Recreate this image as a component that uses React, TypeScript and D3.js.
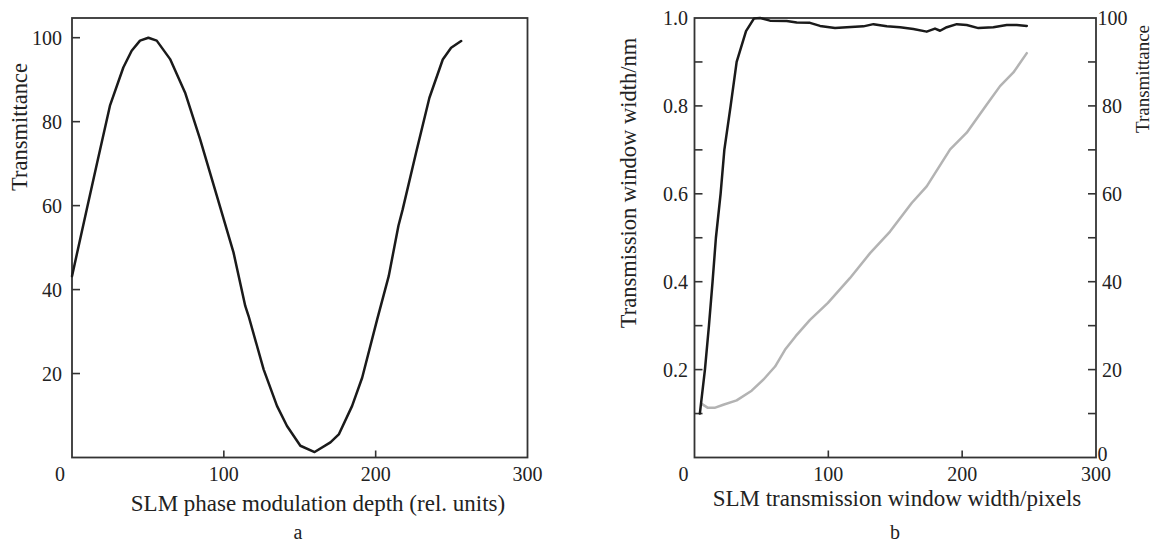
import React from "react";
import * as d3 from "d3";

// Panel a: SLM phase modulation depth vs transmittance
const phaseDepth = [0, 9.7, 16.3, 25, 33.8, 39.3, 44.8, 50.3, 55.8, 64.6, 74.5, 84.4, 95.4, 106.4, 114.1, 116.3, 126.2, 135, 141.6, 150.4, 159.8, 170.2, 175.7, 184.5, 191.1, 201, 208.6, 215, 217.8, 226.6, 235.4, 244.2, 249.7, 256.3];
const phaseTrans = [43.2, 59.1, 69.8, 83.8, 92.9, 96.9, 99.3, 100, 99.3, 94.9, 86.9, 75.8, 62.3, 48.8, 36.1, 33.7, 21, 12.3, 7.5, 2.8, 1.3, 3.6, 5.5, 12.3, 19, 32.9, 43.2, 55.2, 59.1, 72.6, 85.7, 94.8, 97.6, 99.2];

// Panel b: SLM window width (pixels) vs transmission window width (nm)
const winPixelsW = [4, 7.8, 10.8, 13.5, 16, 19.5, 22.3, 27, 31.5, 38.5, 44.5, 49, 56.4, 68.9, 76.4, 86.3, 93.8, 105, 113.8, 126.2, 133.7, 143.7, 153.6, 163.5, 173.5, 179.7, 183.5, 188.5, 196, 203.4, 212.1, 223.3, 233.3, 240.8, 248.3];
const winWidthNm = [0.1, 0.2, 0.3, 0.4, 0.5, 0.6, 0.7, 0.8, 0.9, 0.97, 0.999, 1.0, 0.994, 0.993, 0.99, 0.989, 0.982, 0.977, 0.979, 0.981, 0.986, 0.981, 0.979, 0.975, 0.969, 0.976, 0.971, 0.979, 0.986, 0.984, 0.977, 0.979, 0.984, 0.984, 0.982];

// Panel b: SLM window width (pixels) vs transmittance
const winPixelsT = [5.4, 10, 15, 21.5, 31.5, 42.7, 51.4, 60.2, 67.6, 75.6, 86.3, 99.7, 116.1, 131.2, 146.1, 162.3, 173.5, 191, 203.4, 218.4, 228.3, 238.3, 248.3];
const winTrans = [12.2, 11.3, 11.3, 12.0, 13, 15.2, 17.7, 20.7, 24.5, 27.6, 31.3, 35.2, 40.8, 46.5, 51.4, 57.9, 61.7, 70.1, 73.9, 80.3, 84.5, 87.6, 92];

const xTicksA = [100, 200];
const yTicksA = [20, 40, 60, 80, 100];
const xTicksB = [100, 200];
const yTicksBLeft = [0.1, 0.2, 0.3, 0.4, 0.5, 0.6, 0.7, 0.8, 0.9];
const yLabelsBLeft = [0.2, 0.4, 0.6, 0.8, 1.0];
const yTicksBRight = [10, 20, 30, 40, 50, 60, 70, 80, 90];
const yLabelsBRight = [0, 20, 40, 60, 80, 100];

const FONT = "'Liberation Serif', 'DejaVu Serif', serif";
const TXT = "#222";
const AX = "#333";

export default function App() {
  // Panel a scales
  const xA = d3.scaleLinear().domain([0, 300]).range([72, 527.5]);
  const yA = d3.scaleLinear().domain([0, 100]).range([457.5, 37.7]);
  // Panel b scales
  const xB = d3.scaleLinear().domain([0, 300]).range([694.5, 1096]);
  const yBL = d3.scaleLinear().domain([0, 1]).range([457.5, 18]);
  const yBR = d3.scaleLinear().domain([0, 100]).range([457.5, 18]);

  const lineA = d3.line<number>().x((d, i) => xA(phaseDepth[i])).y((d) => yA(d));
  const lineW = d3.line<number>().x((d, i) => xB(winPixelsW[i])).y((d) => yBL(d));
  const lineT = d3.line<number>().x((d, i) => xB(winPixelsT[i])).y((d) => yBR(d));

  const topY = 18;
  const botY = 457.5;

  return (
    <svg width={1154} height={542} style={{ position: "absolute", left: 0, top: 0, background: "#fff" }} fontFamily={FONT}>
      <rect x={0} y={0} width={1154} height={542} fill="#fff" />
      {/* ---------- Panel a ---------- */}
      <rect x={xA(0)} y={topY} width={xA(300) - xA(0)} height={botY - topY} fill="none" stroke={AX} strokeWidth={1.8} />
      {xTicksA.map((t) => (
        <line key={"xa" + t} x1={xA(t)} x2={xA(t)} y1={botY} y2={botY - 7} stroke={AX} strokeWidth={1.6} />
      ))}
      {yTicksA.map((t) => (
        <line key={"ya" + t} x1={xA(0)} x2={xA(0) + 8} y1={yA(t)} y2={yA(t)} stroke={AX} strokeWidth={1.6} />
      ))}
      {yTicksA.map((t) => (
        <text key={"yal" + t} x={62} y={yA(t)} dy="0.35em" textAnchor="end" fontSize={20} fill={TXT}>{t}</text>
      ))}
      <text x={60} y={480.5} textAnchor="middle" fontSize={20} fill={TXT}>0</text>
      {[100, 200, 300].map((t) => (
        <text key={"xal" + t} x={xA(t)} y={480.5} textAnchor="middle" fontSize={20} fill={TXT}>{t}</text>
      ))}
      <text x={318} y={510.5} textAnchor="middle" fontSize={23} fill={TXT}>SLM phase modulation depth (rel. units)</text>
      <text x={298} y={539} textAnchor="middle" fontSize={20} fill={TXT}>a</text>
      <text transform="translate(27,127) rotate(-90)" textAnchor="middle" fontSize={22.5} fill={TXT}>Transmittance</text>
      <path d={lineA(phaseTrans) || ""} fill="none" stroke="#1a1a1a" strokeWidth={2.5} strokeLinejoin="round" strokeLinecap="round" />

      {/* ---------- Panel b ---------- */}
      <rect x={xB(0)} y={topY} width={xB(300) - xB(0)} height={botY - topY} fill="none" stroke={AX} strokeWidth={1.8} />
      {xTicksB.map((t) => (
        <line key={"xb" + t} x1={xB(t)} x2={xB(t)} y1={botY} y2={botY - 7} stroke={AX} strokeWidth={1.6} />
      ))}
      {yTicksBLeft.map((t) => (
        <line key={"ybl" + t} x1={xB(0)} x2={xB(0) + 8} y1={yBL(t)} y2={yBL(t)} stroke={AX} strokeWidth={1.6} />
      ))}
      {yTicksBRight.map((t) => (
        <line key={"ybr" + t} x1={xB(300)} x2={xB(300) - 8} y1={yBR(t)} y2={yBR(t)} stroke={AX} strokeWidth={1.6} />
      ))}
      {yLabelsBLeft.map((t) => (
        <text key={"yblt" + t} x={688} y={yBL(t)} dy="0.35em" textAnchor="end" fontSize={20} fill={TXT}>{t.toFixed(1)}</text>
      ))}
      {yLabelsBRight.map((t) => (
        <text key={"ybrt" + t} x={t === 0 || t === 100 ? 1097.5 : 1102} y={t === 0 ? yBR(t) - 4 : yBR(t)} dy="0.35em" textAnchor="start" fontSize={20} fill={TXT}>{t}</text>
      ))}
      <text x={683.5} y={481} textAnchor="middle" fontSize={20} fill={TXT}>0</text>
      {[100, 200, 300].map((t) => (
        <text key={"xbl" + t} x={xB(t)} y={481} textAnchor="middle" fontSize={20} fill={TXT}>{t}</text>
      ))}
      <text x={897} y={506} textAnchor="middle" fontSize={23} fill={TXT}>SLM transmission window width/pixels</text>
      <text x={895} y={539} textAnchor="middle" fontSize={20} fill={TXT}>b</text>
      <text transform="translate(636,183) rotate(-90)" textAnchor="middle" fontSize={22.5} fill={TXT}>Transmission window width/nm</text>
      <text transform="translate(1149,79) rotate(-90)" textAnchor="middle" fontSize={19} fill={TXT}>Transmittance</text>
      <path d={lineT(winTrans) || ""} fill="none" stroke="#b3b3b3" strokeWidth={2.5} strokeLinejoin="round" strokeLinecap="round" />
      <path d={lineW(winWidthNm) || ""} fill="none" stroke="#1a1a1a" strokeWidth={2.5} strokeLinejoin="round" strokeLinecap="round" />
    </svg>
  );
}
